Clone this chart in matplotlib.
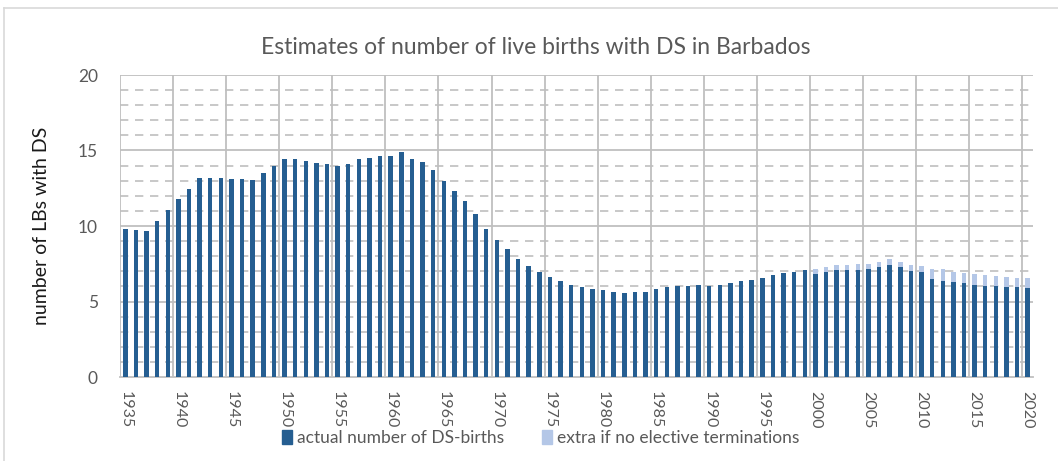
import matplotlib.pyplot as plt
from matplotlib.lines import Line2D
from matplotlib.patches import Patch

years = list(range(1935, 2021))

# actual number of live births with DS
actual = [
    9.78, 9.74, 9.67, 10.35, 11.06,           # 1935-1939
    11.79, 12.47, 13.20, 13.20, 13.16,        # 1940-1944
    13.09, 13.09, 13.05, 13.51, 13.97,        # 1945-1949
    14.42, 14.42, 14.30, 14.20, 14.13,        # 1950-1954
    14.00, 14.08, 14.42, 14.48, 14.66,        # 1955-1959
    14.66, 14.88, 14.42, 14.26, 13.69,        # 1960-1964
    13.00, 12.32, 11.63, 10.82, 9.78,         # 1965-1969
    9.09, 8.45, 7.84, 7.37, 6.98,             # 1970-1974
    6.62, 6.33, 6.09, 5.94, 5.81,             # 1975-1979
    5.76, 5.65, 5.54, 5.60, 5.65,             # 1980-1984
    5.83, 5.94, 6.00, 6.05, 6.09,             # 1985-1989
    6.05, 6.11, 6.23, 6.34, 6.45,             # 1990-1994
    6.58, 6.75, 6.87, 6.93, 7.09,             # 1995-1999
    6.82, 6.93, 7.11, 7.11, 7.11,             # 2000-2004
    7.17, 7.28, 7.40, 7.28, 7.04,             # 2005-2009
    6.98, 6.47, 6.36, 6.29, 6.20,             # 2010-2014
    6.11, 6.05, 6.00, 5.94, 5.96,             # 2015-2019
    5.89,                                     # 2020
]

# extra births if there were no elective terminations (stacked on top)
extra = [0.0] * 65 + [
    0.31, 0.33, 0.33, 0.33, 0.40,             # 2000-2004
    0.34, 0.34, 0.39, 0.34, 0.40,             # 2005-2009
    0.35, 0.66, 0.77, 0.69, 0.67,             # 2010-2014
    0.69, 0.68, 0.67, 0.68, 0.60,             # 2015-2019
    0.67,                                     # 2020
]

dark = "#255e91"
light = "#b4c7e7"
grid_col = "#bfbfbf"
text_col = "#595959"

plt.rcParams["font.family"] = ["Lato", "DejaVu Sans"]

fig = plt.figure(figsize=(10.58, 4.61), dpi=100)
ax = fig.add_axes([120 / 1058, 1 - 377 / 461, 913 / 1058, 302 / 461])

x = list(range(len(years)))
ax.bar(x, actual, width=0.42, color=dark, zorder=3)
ax.bar(x, extra, width=0.42, bottom=actual, color=light, zorder=3)

ax.set_xlim(-0.5, len(years) - 0.5)
ax.set_ylim(0, 20)

# gridlines: solid every 5, dashed every 1, vertical every 5 years
for v in range(1, 20):
    if v % 5 == 0:
        ax.axhline(v, color=grid_col, lw=1.3, zorder=1)
    else:
        ax.axhline(v, color=grid_col, lw=1.2, ls=(0, (5, 4)), zorder=1)
ax.axhline(20, color=grid_col, lw=1.3, zorder=1)
for k in range(0, len(years) + 1, 5):
    ax.axvline(k - 0.5, color=grid_col, lw=1.3, zorder=1)

for s in ["top", "right", "left"]:
    ax.spines[s].set_visible(False)
ax.spines["bottom"].set_color(grid_col)
ax.spines["bottom"].set_linewidth(1.3)

ax.set_yticks([0, 5, 10, 15, 20])
ax.tick_params(axis="y", length=0, labelsize=12.5, labelcolor=text_col, pad=16)

tick_pos = [i for i, y in enumerate(years) if y % 5 == 0]
ax.set_xticks(tick_pos)
ax.set_xticklabels([str(years[i]) for i in tick_pos], rotation=-90)
ax.tick_params(axis="x", length=0, labelsize=11.5, labelcolor=text_col, pad=10)

ax.set_ylabel("number of LBs with DS", fontsize=14, color="#1a1a1a", labelpad=20)

fig.text(536 / 1058, 1 - 47 / 461, "Estimates of number of live births with DS in Barbados",
         ha="center", va="center", fontsize=16.5, color=text_col)

handles = [Patch(color=dark), Patch(color=light)]
fig.legend(handles, ["actual number of DS-births", "extra if no elective terminations"],
           loc="center", bbox_to_anchor=(541 / 1058, 1 - 438 / 461), ncol=2, frameon=False,
           fontsize=12.5, labelcolor=text_col, handlelength=0.55, handleheight=0.9,
           handletextpad=0.3, columnspacing=2.2)

# chart frame (top and left edges)
fig.add_artist(Line2D([4 / 1058, 1], [1 - 8 / 461, 1 - 8 / 461], color="#d9d9d9", lw=1.2))
fig.add_artist(Line2D([4 / 1058, 4 / 1058], [0, 1 - 8 / 461], color="#d9d9d9", lw=1.2))

fig.savefig("out.png", dpi=100)
